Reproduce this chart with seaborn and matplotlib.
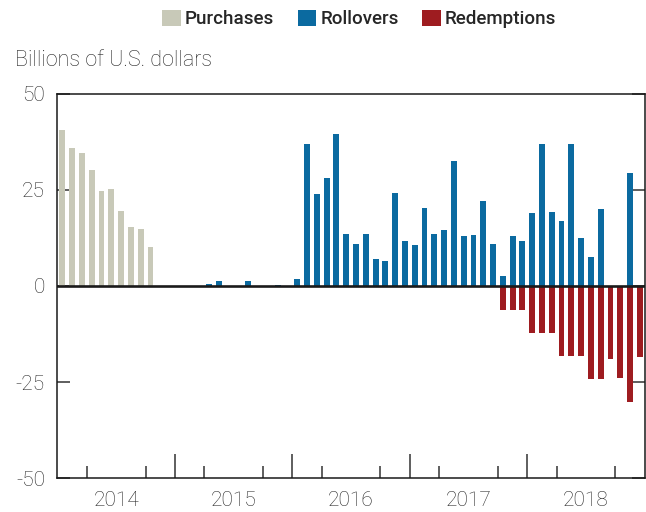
import numpy as np
import pandas as pd
import matplotlib
matplotlib.use('Agg')
import matplotlib.pyplot as plt
from matplotlib.patches import Patch
import seaborn as sns

# monthly values, billions of U.S. dollars
years = ['2014', '2015', '2016', '2017', '2018']
# Jan 2014 - Oct 2014
purchases = [40.5, 35.9, 34.6, 30.1, 24.8, 25.3, 19.4, 15.3, 14.7, 10.1]
# Jan 2014 - Dec 2018
rollovers = [0, 0, 0, 0, 0, 0, 0, 0, 0, 0, 0, 0,
             0, 0, 0, 0.4, 1.4, 0, 0, 1.4, 0, 0, 0.2, 0,
             1.9, 36.9, 23.8, 28.0, 39.5, 13.6, 10.9, 13.4, 6.9, 6.6, 24.2, 11.8,
             10.6, 20.4, 13.6, 14.6, 32.6, 12.9, 13.2, 22.0, 10.9, 2.7, 12.9, 11.6,
             19.0, 36.8, 19.3, 16.8, 36.8, 12.5, 7.5, 20.1, 0, 0, 29.3, 0]
# Oct 2017 - Dec 2018
redemptions = [-6.3, -6.3, -6.3, -12.2, -12.2, -12.2, -18.2, -18.2, -18.2,
               -24.1, -24.1, -19.1, -23.9, -30.1, -18.4]

n_months = len(rollovers)
purch_full = purchases + [0] * (n_months - len(purchases))
redem_full = [0] * (n_months - len(redemptions)) + redemptions

df = pd.concat([
    pd.DataFrame({'month': range(n_months), 'value': purch_full, 'series': 'Purchases'}),
    pd.DataFrame({'month': range(n_months), 'value': rollovers, 'series': 'Rollovers'}),
    pd.DataFrame({'month': range(n_months), 'value': redem_full, 'series': 'Redemptions'}),
])
df = df[df['value'] != 0]

palette = {'Purchases': '#c8c9b8', 'Rollovers': '#0b6aa0', 'Redemptions': '#9e1c20'}

sns.set_style('white')
plt.rcParams['font.family'] = ['Roboto', 'DejaVu Sans']
txt_color = '#262626'

fig = plt.figure(figsize=(6.46, 5.12), dpi=100)
ax = fig.add_axes([0.089, 0.066, 0.909, 0.751])

sns.barplot(data=df, x='month', y='value', hue='series', order=list(range(n_months)),
            hue_order=list(palette.keys()), palette=palette, dodge=False,
            width=0.6, linewidth=0, saturation=1, ax=ax, legend=False)

ax.set_xlim(-0.5, n_months - 0.5)
ax.set_ylim(-50, 50)
ax.axhline(0, color='#1a1a1a', lw=1.9, zorder=5)

for s in ax.spines.values():
    s.set_visible(True)
    s.set_color('#1a1a1a')
    s.set_linewidth(1.1)

# y axis
ax.set_yticks([-50, -25, 0, 25, 50])
ax.set_yticklabels(['-50', '-25', '0', '25', '50'])
ax.tick_params(axis='y', direction='in', length=9.5, width=1.1, color='#333333',
               left=True, right=True, labelsize=15, pad=9, labelcolor=txt_color)
for t in ax.get_yticklabels():
    t.set_fontweight('light')

# x axis: year labels in the middle, quarter ticks, long year ticks
ax.set_xticks([12 * i + 5.5 for i in range(len(years))])
ax.set_xticklabels(years)
ax.tick_params(axis='x', which='major', bottom=True, length=0, labelsize=15, pad=9,
               labelcolor=txt_color)
for t in ax.get_xticklabels():
    t.set_fontweight('light')
quarters = [3 * i - 0.5 for i in range(1, 20) if i % 4 != 0]
ax.set_xticks(quarters, minor=True)
ax.tick_params(axis='x', which='minor', bottom=True, direction='in', length=8.5,
               width=1.1, color='#333333')
sec = ax.secondary_xaxis('bottom')
sec.set_xticks([12 * i - 0.5 for i in range(1, len(years))])
sec.set_xticklabels([])
sec.tick_params(bottom=True, direction='in', length=17.5, width=1.1, color='#333333')
sec.spines['bottom'].set_visible(False)

ax.set_xlabel('')
ax.set_ylabel('')

fig.text(0.023, 0.882, 'Billions of U.S. dollars', fontsize=15.5, fontweight='light',
         color=txt_color, va='center', ha='left')

handles = [Patch(facecolor=c, edgecolor='none', label=k) for k, c in palette.items()]
leg = fig.legend(handles=handles, loc='center', bbox_to_anchor=(0.556, 0.963), ncol=3,
                 frameon=False, handlelength=1.0, handleheight=1.0, handletextpad=0.2,
                 columnspacing=1.25, prop={'size': 13.5, 'weight': 'medium'})

fig.savefig('out.png', dpi=100)
